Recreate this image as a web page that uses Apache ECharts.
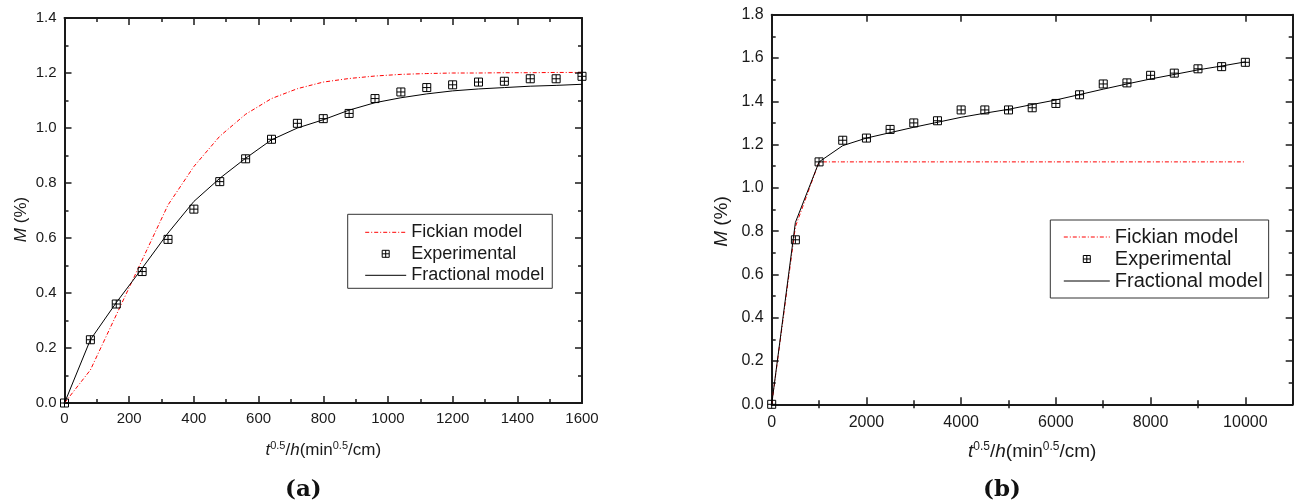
<!DOCTYPE html>
<html>
<head>
<meta charset="utf-8">
<script src="https://cdn.jsdelivr.net/npm/echarts@6/dist/echarts.min.js"></script>
<style>
  html, body { margin: 0; padding: 0; background: #fff; }
  #chart { width: 1294px; height: 504px; }
</style>
</head>
<body>
<div id="chart"></div>
<script>
// ---- panel (a): sorption vs t^0.5/h, 0..1600 ----
const xA = [0, 80, 160, 240, 320, 400, 480, 560, 640, 720, 800, 880, 960, 1040, 1120, 1200, 1280, 1360, 1440, 1520, 1600];
const expA = [0, 0.23, 0.36, 0.478, 0.595, 0.705, 0.805, 0.888, 0.959, 1.017, 1.034, 1.053, 1.107, 1.131, 1.147, 1.157, 1.167, 1.17, 1.179, 1.179, 1.188];
const fickA = [0, 0.12, 0.32, 0.52, 0.72, 0.86, 0.97, 1.05, 1.107, 1.143, 1.167, 1.18, 1.189, 1.195, 1.198, 1.2, 1.2, 1.201, 1.201, 1.202, 1.202];
const fracA = [0, 0.23, 0.365, 0.49, 0.618, 0.733, 0.817, 0.89, 0.957, 1.0, 1.03, 1.065, 1.092, 1.11, 1.124, 1.135, 1.142, 1.147, 1.152, 1.155, 1.159];

// ---- panel (b): sorption vs t^0.5/h, 0..10000 ----
const xB = [0, 500, 1000, 1500, 2000, 2500, 3000, 3500, 4000, 4500, 5000, 5500, 6000, 6500, 7000, 7500, 8000, 8500, 9000, 9500, 10000];
const expB = [0, 0.76, 1.12, 1.22, 1.23, 1.27, 1.30, 1.31, 1.36, 1.36, 1.36, 1.37, 1.39, 1.43, 1.48, 1.485, 1.52, 1.53, 1.55, 1.56, 1.58];
const fickB = [0, 0.82, 1.12, 1.12, 1.12, 1.12, 1.12, 1.12, 1.12, 1.12, 1.12, 1.12, 1.12, 1.12, 1.12, 1.12, 1.12, 1.12, 1.12, 1.12, 1.12];
const fracB = [0, 0.84, 1.12, 1.195, 1.23, 1.255, 1.28, 1.303, 1.326, 1.345, 1.363, 1.385, 1.406, 1.431, 1.456, 1.48, 1.503, 1.524, 1.545, 1.563, 1.582];

// axis ticks for panel (b): labelled majors and unlabelled minors
const majorTicksB = [0, 2000, 4000, 6000, 8000, 10000];
const minorTicksB = [1000, 3000, 5000, 7000, 9000];

const seriesNames = ['Fickian model', 'Experimental', 'Fractional model'];

const pairs = (xs, ys) => xs.map((x, i) => [x, ys[i]]);

const INK = '#1a1a1a';
const FONT = '"Liberation Sans", Arial, sans-serif';
const markerPath = 'path://M0,0H10V10H0Z M5,0V10 M0,5H10';
const fickDash = [4, 2, 1, 2];
const markerStyle = { color: 'rgba(0,0,0,0)', borderColor: '#000', borderWidth: 1, opacity: 1 };

function nameRich(size) {
  return {
    it: { fontFamily: FONT, fontSize: size, fontStyle: 'italic', color: INK },
    n: { fontFamily: FONT, fontSize: size, color: INK },
    sup: { fontFamily: FONT, fontSize: Math.round(size * 0.62), color: INK, padding: [0, 0, Math.round(size * 0.55), 0] }
  };
}

function xAxisBase(gridIndex, pos, min, max, interval, fontSize, showLabel, labelMargin) {
  return {
    type: 'value', gridIndex, position: pos, min, max, interval,
    axisLine: { show: true, onZero: false, lineStyle: { color: INK, width: 2 } },
    axisTick: { show: true, inside: true, length: 7, lineStyle: { color: INK, width: 1.5 } },
    minorTick: { show: true, splitNumber: 2, length: 4, lineStyle: { color: INK, width: 1.5 } },
    splitLine: { show: false },
    axisLabel: { show: showLabel, fontFamily: FONT, fontSize, color: INK, margin: labelMargin,
                 formatter: v => String(v) }
  };
}

function yAxisBase(gridIndex, pos, max, fontSize, showLabel, labelMargin) {
  return {
    type: 'value', gridIndex, position: pos, min: 0, max, interval: 0.2,
    axisLine: { show: true, onZero: false, lineStyle: { color: INK, width: 2 } },
    axisTick: { show: true, inside: true, length: 7, lineStyle: { color: INK, width: 1.5 } },
    minorTick: { show: true, splitNumber: 2, length: 4, lineStyle: { color: INK, width: 1.5 } },
    splitLine: { show: false },
    axisLabel: { show: showLabel, fontFamily: FONT, fontSize, color: INK, margin: labelMargin,
                 formatter: v => v.toFixed(1) }
  };
}

const xNameText = '{it|t}{sup|0.5}{n|/}{it|h}{n|(min}{sup|0.5}{n|/cm)}';
const yNameText = '{it|M}{n| (%)}';

// panel (a) axes
const xa0 = xAxisBase(0, 'bottom', 0, 1600, 200, 15, true, 8);
Object.assign(xa0, { name: xNameText, nameLocation: 'middle', nameGap: 37,
  nameTextStyle: { rich: nameRich(17) } });
const xa1 = xAxisBase(0, 'top', 0, 1600, 200, 15, false, 8);

const ya0 = yAxisBase(0, 'left', 1.4, 15, true, 8);
Object.assign(ya0, { name: yNameText, nameLocation: 'middle', nameGap: 35, nameRotate: 90,
  nameTextStyle: { rich: nameRich(17), padding: [0, 18, 0, 0] } });
const ya1 = yAxisBase(0, 'right', 1.4, 15, false, 8);

// panel (b) axes: majors carry labels, a twin axis carries the minor ticks
function xbMajor(pos, showLabel) {
  const a = xAxisBase(1, pos, 0, 11000, 1000, 16, showLabel, 10);
  a.minorTick = { show: false };
  a.axisTick.customValues = majorTicksB;
  a.axisLabel.customValues = majorTicksB;
  return a;
}
function xbMinor(pos) {
  const a = xAxisBase(1, pos, 0, 11000, 1000, 16, false, 10);
  a.minorTick = { show: false };
  a.axisLine = { show: false };
  a.axisTick.customValues = minorTicksB;
  a.axisTick.length = 4;
  return a;
}
const xb0 = xbMajor('bottom', true);
Object.assign(xb0, { name: xNameText, nameLocation: 'middle', nameGap: 36,
  nameTextStyle: { rich: nameRich(19) } });
const xb1 = xbMajor('top', false);
const xb2 = xbMinor('bottom');
const xb3 = xbMinor('top');

const yb0 = yAxisBase(1, 'left', 1.8, 16, true, 8);
Object.assign(yb0, { name: yNameText, nameLocation: 'middle', nameGap: 40, nameRotate: 90,
  nameTextStyle: { rich: nameRich(19), padding: [0, 24, 0, 0] } });
const yb1 = yAxisBase(1, 'right', 1.8, 16, false, 8);

function panelSeries(xIdx, yIdx, xs, fick, exp, frac) {
  return [
    { name: seriesNames[0], type: 'line', xAxisIndex: xIdx, yAxisIndex: yIdx,
      data: pairs(xs, fick), symbol: 'none', silent: true, z: 2,
      lineStyle: { color: '#ff0000', width: 1, type: fickDash }, itemStyle: { color: '#ff0000' } },
    { name: seriesNames[1], type: 'scatter', xAxisIndex: xIdx, yAxisIndex: yIdx,
      data: pairs(xs, exp), symbol: markerPath, symbolSize: 8, silent: true, z: 4,
      itemStyle: markerStyle },
    { name: seriesNames[2], type: 'line', xAxisIndex: xIdx, yAxisIndex: yIdx,
      data: pairs(xs, frac), symbol: 'none', silent: true, z: 3,
      lineStyle: { color: '#000', width: 1 }, itemStyle: { color: '#000' } }
  ];
}

function legendBox(left, top, itemWidth, fontSize, gap, padding) {
  return {
    orient: 'vertical', left, top, itemWidth, itemHeight: 7, itemGap: gap,
    padding, borderColor: '#333', borderWidth: 1, backgroundColor: '#fff',
    selectedMode: false,
    data: [
      { name: seriesNames[0], itemStyle: { opacity: 0 },
        lineStyle: { color: '#ff0000', width: 1, type: fickDash } },
      { name: seriesNames[1], itemStyle: markerStyle },
      { name: seriesNames[2], itemStyle: { opacity: 0 },
        lineStyle: { color: '#000', width: 1 } }
    ],
    textStyle: { fontFamily: FONT, fontSize, color: INK, lineHeight: fontSize }
  };
}

const chart = echarts.init(document.getElementById('chart'), null, { renderer: 'canvas' });
chart.setOption({
  animation: false,
  backgroundColor: '#fff',
  title: [
    { text: '(a)', left: 280, top: 474,
      textStyle: { fontFamily: '"DejaVu Serif", serif', fontWeight: 'bold', fontSize: 23, color: '#111' } },
    { text: '(b)', left: 978, top: 474,
      textStyle: { fontFamily: '"DejaVu Serif", serif', fontWeight: 'bold', fontSize: 23, color: '#111' } }
  ],
  grid: [
    { left: 64.5, top: 18, width: 517.5, height: 385 },
    { left: 771.7, top: 14.7, width: 521, height: 389.6 }
  ],
  xAxis: [xa0, xa1, xb0, xb1, xb2, xb3],
  yAxis: [ya0, ya1, yb0, yb1],
  legend: [
    legendBox(347.7, 214.3, 41, 18, 3.5, [9, 8, 4, 17]),
    legendBox(1050.3, 220, 46, 20, 2, [7, 6, 7, 13])
  ],
  series: [
    ...panelSeries(0, 0, xA, fickA, expA, fracA),
    ...panelSeries(2, 2, xB, fickB, expB, fracB)
  ]
});
</script>
</body>
</html>
